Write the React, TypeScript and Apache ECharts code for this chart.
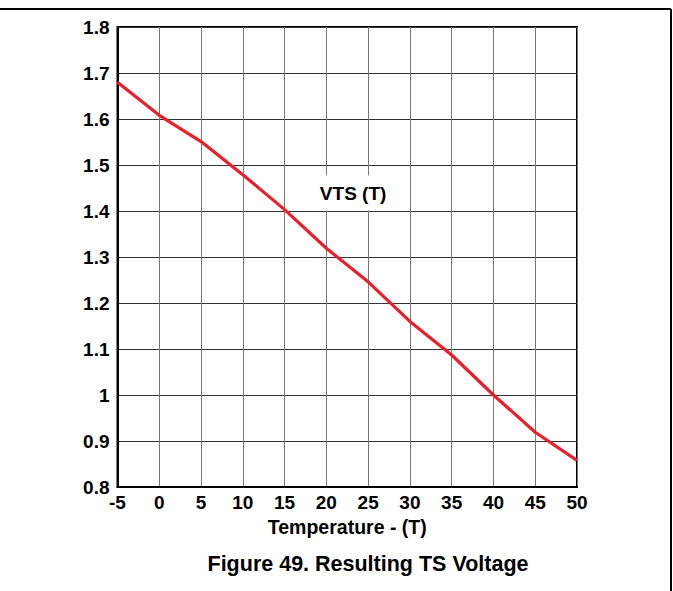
import React, { useEffect, useRef } from "react";
import * as echarts from "echarts";

const temperatures = [-5, 0, 5, 10, 15, 20, 25, 30, 35, 40, 45, 50];
const vtsValues = [1.68, 1.608, 1.551, 1.479, 1.403, 1.319, 1.246, 1.16, 1.087, 1.0, 0.919, 0.858];
const seriesLabel = "VTS (T)";
const xAxisTitle = "Temperature - (T)";
const figureTitle = "Figure 49. Resulting TS Voltage";
const labelAnchor = [23.2, 1.439];

const FONT = "'Liberation Sans', Arial, sans-serif";

export default function App() {
  const ref = useRef<HTMLDivElement>(null);
  useEffect(() => {
    if (!ref.current) return;
    const chart = echarts.init(ref.current, null, { renderer: "svg" });
    chart.setOption({
      animation: false,
      backgroundColor: "#fff",
      title: {
        text: figureTitle,
        left: 363,
        top: 548,
        textAlign: "center",
        textStyle: { fontFamily: FONT, fontSize: 21.5, fontWeight: "bold", color: "#000" },
      },
      grid: {
        left: 117.5,
        top: 27,
        right: 96,
        bottom: 104,
        show: true,
        borderColor: "#000",
        borderWidth: 2,
        backgroundColor: "transparent",
      },
      xAxis: {
        type: "value",
        min: -5,
        max: 50,
        interval: 5,
        name: xAxisTitle,
        nameLocation: "middle",
        nameGap: 30,
        nameTextStyle: { fontFamily: FONT, fontSize: 19.5, fontWeight: "bold", color: "#000" },
        axisLine: { show: true, onZero: false, lineStyle: { color: "#000", width: 2 } },
        axisTick: { show: false },
        axisLabel: { fontFamily: FONT, fontSize: 19, fontWeight: "bold", color: "#000", margin: 6 },
        splitLine: { show: true, lineStyle: { color: "#777", width: 1 } },
      },
      yAxis: {
        type: "value",
        min: 0.8,
        max: 1.8,
        interval: 0.1,
        axisLine: { show: true, onZero: false, lineStyle: { color: "#000", width: 2 } },
        axisTick: { show: false },
        axisLabel: {
          fontFamily: FONT,
          fontSize: 19,
          fontWeight: "bold",
          color: "#000",
          margin: 8,
          formatter: (v: number) => String(+v.toFixed(1)),
        },
        splitLine: { show: true, lineStyle: { color: "#333", width: 1 } },
      },
      series: [
        {
          type: "line",
          data: temperatures.map((t, i) => [t, vtsValues[i]]),
          showSymbol: false,
          symbol: "none",
          lineStyle: { color: "#e8202a", width: 3.2 },
          z: 3,
          markPoint: {
            symbol: "rect",
            symbolSize: 0,
            silent: true,
            data: [{ coord: labelAnchor, value: seriesLabel }],
            label: {
              show: true,
              position: "inside",
              formatter: seriesLabel,
              fontFamily: FONT,
              fontSize: 19,
              fontWeight: "bold",
              color: "#000",
              backgroundColor: "#fff",
              padding: [8, 22, 8, 22],
            },
          },
        },
      ],
      graphic: [
        {
          type: "line",
          shape: { x1: 0, y1: 9, x2: 671, y2: 9 },
          style: { stroke: "#000", lineWidth: 2 },
        },
        {
          type: "line",
          shape: { x1: 671, y1: 9, x2: 671, y2: 591 },
          style: { stroke: "#000", lineWidth: 2 },
        },
      ],
    });
    return () => chart.dispose();
  }, []);
  return (
    <div
      ref={ref}
      style={{ position: "fixed", left: 0, top: 0, width: 673, height: 591 }}
    />
  );
}
